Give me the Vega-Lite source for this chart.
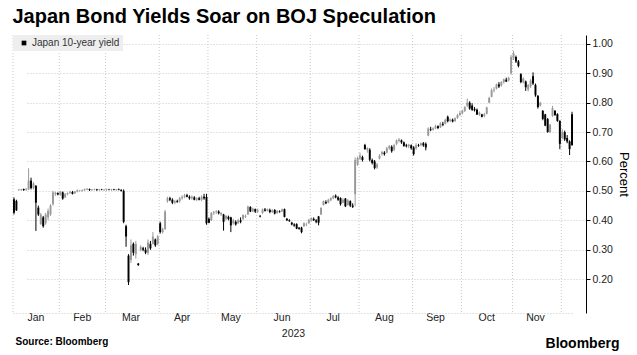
{
"$schema":"https://vega.github.io/schema/vega-lite/v6.json",
"padding":{"left":12,"top":6,"right":4,"bottom":3},
"background":"#ffffff",
"config":{"view":{"stroke":null},"font":"Liberation Sans"},
"title":{"text":"Bloomberg","orient":"bottom","anchor":"end","font":"Liberation Sans","fontSize":14,"fontWeight":"bold","color":"#000000","offset":-10,"dx":-10},
"vconcat":[{
"title":{"text":"Source: Bloomberg","orient":"bottom","anchor":"start","font":"Liberation Sans","fontSize":10,"fontWeight":"bold","color":"#000000","offset":-2,"dx":3},
"vconcat":[{
"title":{"text":"Japan Bond Yields Soar on BOJ Speculation","anchor":"start","font":"Liberation Sans","fontSize":20,"fontWeight":"bold","color":"#000000","offset":8},
"width":573,"height":278,
"data":{"values":[
{"d":"2023-01-04","o":0.472,"h":0.478,"l":0.42,"c":0.426},
{"d":"2023-01-05","o":0.466,"h":0.47,"l":0.432,"c":0.434},
{"d":"2023-01-06","o":0.503,"h":0.507,"l":0.5,"c":0.505},
{"d":"2023-01-10","o":0.504,"h":0.507,"l":0.5,"c":0.506},
{"d":"2023-01-11","o":0.506,"h":0.508,"l":0.5,"c":0.503},
{"d":"2023-01-12","o":0.503,"h":0.51,"l":0.5,"c":0.505},
{"d":"2023-01-13","o":0.505,"h":0.577,"l":0.503,"c":0.535},
{"d":"2023-01-16","o":0.535,"h":0.545,"l":0.505,"c":0.51},
{"d":"2023-01-17","o":0.51,"h":0.53,"l":0.505,"c":0.525},
{"d":"2023-01-18","o":0.517,"h":0.52,"l":0.364,"c":0.46},
{"d":"2023-01-19","o":0.443,"h":0.45,"l":0.415,"c":0.42},
{"d":"2023-01-20","o":0.387,"h":0.425,"l":0.385,"c":0.42},
{"d":"2023-01-23","o":0.41,"h":0.415,"l":0.375,"c":0.38},
{"d":"2023-01-24","o":0.39,"h":0.425,"l":0.385,"c":0.42},
{"d":"2023-01-25","o":0.41,"h":0.44,"l":0.4,"c":0.432},
{"d":"2023-01-26","o":0.42,"h":0.455,"l":0.415,"c":0.45},
{"d":"2023-01-27","o":0.455,"h":0.5,"l":0.45,"c":0.495},
{"d":"2023-01-30","o":0.49,"h":0.497,"l":0.483,"c":0.494},
{"d":"2023-01-31","o":0.493,"h":0.495,"l":0.485,"c":0.488},
{"d":"2023-02-01","o":0.488,"h":0.5,"l":0.483,"c":0.497},
{"d":"2023-02-02","o":0.495,"h":0.498,"l":0.47,"c":0.474},
{"d":"2023-02-03","o":0.478,"h":0.492,"l":0.476,"c":0.49},
{"d":"2023-02-06","o":0.49,"h":0.495,"l":0.485,"c":0.493},
{"d":"2023-02-07","o":0.494,"h":0.5,"l":0.49,"c":0.497},
{"d":"2023-02-08","o":0.496,"h":0.5,"l":0.488,"c":0.49},
{"d":"2023-02-09","o":0.492,"h":0.5,"l":0.49,"c":0.498},
{"d":"2023-02-10","o":0.498,"h":0.505,"l":0.495,"c":0.502},
{"d":"2023-02-13","o":0.5,"h":0.504,"l":0.497,"c":0.5},
{"d":"2023-02-14","o":0.5,"h":0.505,"l":0.498,"c":0.503},
{"d":"2023-02-15","o":0.503,"h":0.508,"l":0.5,"c":0.506},
{"d":"2023-02-16","o":0.505,"h":0.51,"l":0.502,"c":0.507},
{"d":"2023-02-17","o":0.506,"h":0.508,"l":0.5,"c":0.503},
{"d":"2023-02-20","o":0.503,"h":0.506,"l":0.5,"c":0.505},
{"d":"2023-02-21","o":0.505,"h":0.508,"l":0.502,"c":0.506},
{"d":"2023-02-22","o":0.505,"h":0.507,"l":0.5,"c":0.503},
{"d":"2023-02-24","o":0.503,"h":0.507,"l":0.5,"c":0.505},
{"d":"2023-02-27","o":0.505,"h":0.507,"l":0.502,"c":0.504},
{"d":"2023-02-28","o":0.503,"h":0.506,"l":0.5,"c":0.505},
{"d":"2023-03-01","o":0.505,"h":0.508,"l":0.5,"c":0.506},
{"d":"2023-03-02","o":0.505,"h":0.507,"l":0.502,"c":0.504},
{"d":"2023-03-03","o":0.504,"h":0.507,"l":0.5,"c":0.505},
{"d":"2023-03-06","o":0.505,"h":0.507,"l":0.502,"c":0.503},
{"d":"2023-03-07","o":0.503,"h":0.506,"l":0.5,"c":0.505},
{"d":"2023-03-08","o":0.505,"h":0.508,"l":0.502,"c":0.503},
{"d":"2023-03-09","o":0.503,"h":0.506,"l":0.498,"c":0.5},
{"d":"2023-03-10","o":0.5,"h":0.505,"l":0.39,"c":0.395},
{"d":"2023-03-13","o":0.38,"h":0.385,"l":0.31,"c":0.345},
{"d":"2023-03-14","o":0.28,"h":0.285,"l":0.18,"c":0.19},
{"d":"2023-03-15","o":0.265,"h":0.335,"l":0.255,"c":0.315},
{"d":"2023-03-16","o":0.32,"h":0.325,"l":0.28,"c":0.29},
{"d":"2023-03-17","o":0.285,"h":0.33,"l":0.27,"c":0.32},
{"d":"2023-03-20","o":0.253,"h":0.255,"l":0.245,"c":0.248},
{"d":"2023-03-22","o":0.3,"h":0.315,"l":0.295,"c":0.31},
{"d":"2023-03-23","o":0.305,"h":0.31,"l":0.295,"c":0.3},
{"d":"2023-03-24","o":0.3,"h":0.308,"l":0.285,"c":0.29},
{"d":"2023-03-27","o":0.29,"h":0.335,"l":0.282,"c":0.325},
{"d":"2023-03-28","o":0.32,"h":0.33,"l":0.3,"c":0.305},
{"d":"2023-03-29","o":0.32,"h":0.36,"l":0.318,"c":0.345},
{"d":"2023-03-30","o":0.335,"h":0.338,"l":0.31,"c":0.315},
{"d":"2023-03-31","o":0.32,"h":0.35,"l":0.315,"c":0.345},
{"d":"2023-04-03","o":0.39,"h":0.395,"l":0.355,"c":0.36},
{"d":"2023-04-04","o":0.36,"h":0.375,"l":0.355,"c":0.37},
{"d":"2023-04-05","o":0.37,"h":0.435,"l":0.368,"c":0.43},
{"d":"2023-04-06","o":0.465,"h":0.48,"l":0.46,"c":0.475},
{"d":"2023-04-07","o":0.475,"h":0.48,"l":0.465,"c":0.47},
{"d":"2023-04-10","o":0.47,"h":0.475,"l":0.455,"c":0.46},
{"d":"2023-04-11","o":0.46,"h":0.47,"l":0.455,"c":0.465},
{"d":"2023-04-12","o":0.465,"h":0.47,"l":0.46,"c":0.462},
{"d":"2023-04-13","o":0.465,"h":0.48,"l":0.46,"c":0.475},
{"d":"2023-04-14","o":0.475,"h":0.485,"l":0.47,"c":0.48},
{"d":"2023-04-17","o":0.48,"h":0.49,"l":0.475,"c":0.485},
{"d":"2023-04-18","o":0.485,"h":0.49,"l":0.478,"c":0.48},
{"d":"2023-04-19","o":0.48,"h":0.485,"l":0.47,"c":0.475},
{"d":"2023-04-20","o":0.475,"h":0.485,"l":0.47,"c":0.48},
{"d":"2023-04-21","o":0.478,"h":0.482,"l":0.468,"c":0.47},
{"d":"2023-04-24","o":0.47,"h":0.478,"l":0.465,"c":0.475},
{"d":"2023-04-25","o":0.475,"h":0.48,"l":0.468,"c":0.47},
{"d":"2023-04-26","o":0.47,"h":0.485,"l":0.465,"c":0.48},
{"d":"2023-04-27","o":0.48,"h":0.49,"l":0.47,"c":0.475},
{"d":"2023-04-28","o":0.48,"h":0.49,"l":0.385,"c":0.39},
{"d":"2023-05-01","o":0.405,"h":0.41,"l":0.39,"c":0.392},
{"d":"2023-05-02","o":0.4,"h":0.428,"l":0.398,"c":0.425},
{"d":"2023-05-08","o":0.425,"h":0.432,"l":0.418,"c":0.428},
{"d":"2023-05-09","o":0.428,"h":0.435,"l":0.422,"c":0.43},
{"d":"2023-05-10","o":0.43,"h":0.434,"l":0.42,"c":0.424},
{"d":"2023-05-11","o":0.42,"h":0.428,"l":0.415,"c":0.425},
{"d":"2023-05-12","o":0.42,"h":0.422,"l":0.365,"c":0.395},
{"d":"2023-05-15","o":0.405,"h":0.418,"l":0.4,"c":0.415},
{"d":"2023-05-16","o":0.412,"h":0.416,"l":0.4,"c":0.405},
{"d":"2023-05-17","o":0.41,"h":0.412,"l":0.36,"c":0.383},
{"d":"2023-05-18","o":0.39,"h":0.405,"l":0.385,"c":0.4},
{"d":"2023-05-19","o":0.395,"h":0.4,"l":0.382,"c":0.386},
{"d":"2023-05-22","o":0.39,"h":0.405,"l":0.388,"c":0.4},
{"d":"2023-05-23","o":0.4,"h":0.41,"l":0.39,"c":0.395},
{"d":"2023-05-24","o":0.405,"h":0.42,"l":0.4,"c":0.418},
{"d":"2023-05-25","o":0.412,"h":0.42,"l":0.408,"c":0.415},
{"d":"2023-05-26","o":0.42,"h":0.45,"l":0.418,"c":0.447},
{"d":"2023-05-29","o":0.445,"h":0.448,"l":0.428,"c":0.43},
{"d":"2023-05-30","o":0.43,"h":0.443,"l":0.428,"c":0.44},
{"d":"2023-05-31","o":0.438,"h":0.44,"l":0.425,"c":0.43},
{"d":"2023-06-01","o":0.43,"h":0.44,"l":0.425,"c":0.435},
{"d":"2023-06-02","o":0.415,"h":0.418,"l":0.41,"c":0.413},
{"d":"2023-06-05","o":0.425,"h":0.44,"l":0.422,"c":0.437},
{"d":"2023-06-06","o":0.437,"h":0.442,"l":0.43,"c":0.433},
{"d":"2023-06-07","o":0.433,"h":0.44,"l":0.43,"c":0.438},
{"d":"2023-06-08","o":0.435,"h":0.44,"l":0.424,"c":0.428},
{"d":"2023-06-09","o":0.428,"h":0.438,"l":0.425,"c":0.434},
{"d":"2023-06-12","o":0.435,"h":0.438,"l":0.42,"c":0.423},
{"d":"2023-06-13","o":0.425,"h":0.435,"l":0.422,"c":0.432},
{"d":"2023-06-14","o":0.43,"h":0.434,"l":0.426,"c":0.428},
{"d":"2023-06-15","o":0.43,"h":0.44,"l":0.428,"c":0.437},
{"d":"2023-06-16","o":0.438,"h":0.44,"l":0.41,"c":0.412},
{"d":"2023-06-19","o":0.405,"h":0.408,"l":0.398,"c":0.4},
{"d":"2023-06-20","o":0.4,"h":0.404,"l":0.395,"c":0.397},
{"d":"2023-06-21","o":0.392,"h":0.395,"l":0.383,"c":0.386},
{"d":"2023-06-22","o":0.386,"h":0.39,"l":0.378,"c":0.382},
{"d":"2023-06-23","o":0.387,"h":0.39,"l":0.37,"c":0.372},
{"d":"2023-06-26","o":0.375,"h":0.377,"l":0.368,"c":0.371},
{"d":"2023-06-27","o":0.375,"h":0.378,"l":0.356,"c":0.36},
{"d":"2023-06-28","o":0.38,"h":0.393,"l":0.378,"c":0.39},
{"d":"2023-06-29","o":0.385,"h":0.392,"l":0.38,"c":0.386},
{"d":"2023-06-30","o":0.39,"h":0.405,"l":0.388,"c":0.402},
{"d":"2023-07-03","o":0.4,"h":0.41,"l":0.396,"c":0.408},
{"d":"2023-07-04","o":0.405,"h":0.41,"l":0.398,"c":0.4},
{"d":"2023-07-05","o":0.4,"h":0.404,"l":0.39,"c":0.395},
{"d":"2023-07-06","o":0.413,"h":0.415,"l":0.383,"c":0.392},
{"d":"2023-07-07","o":0.42,"h":0.445,"l":0.418,"c":0.442},
{"d":"2023-07-10","o":0.452,"h":0.467,"l":0.45,"c":0.465},
{"d":"2023-07-11","o":0.462,"h":0.468,"l":0.455,"c":0.458},
{"d":"2023-07-12","o":0.46,"h":0.473,"l":0.458,"c":0.47},
{"d":"2023-07-13","o":0.468,"h":0.478,"l":0.465,"c":0.476},
{"d":"2023-07-14","o":0.475,"h":0.486,"l":0.472,"c":0.482},
{"d":"2023-07-18","o":0.484,"h":0.488,"l":0.475,"c":0.478},
{"d":"2023-07-19","o":0.478,"h":0.482,"l":0.466,"c":0.47},
{"d":"2023-07-20","o":0.476,"h":0.478,"l":0.45,"c":0.455},
{"d":"2023-07-21","o":0.46,"h":0.475,"l":0.458,"c":0.47},
{"d":"2023-07-24","o":0.474,"h":0.476,"l":0.445,"c":0.448},
{"d":"2023-07-25","o":0.452,"h":0.472,"l":0.45,"c":0.468},
{"d":"2023-07-26","o":0.465,"h":0.468,"l":0.445,"c":0.45},
{"d":"2023-07-27","o":0.45,"h":0.458,"l":0.442,"c":0.446},
{"d":"2023-07-28","o":0.489,"h":0.614,"l":0.448,"c":0.605},
{"d":"2023-07-31","o":0.59,"h":0.617,"l":0.585,"c":0.612},
{"d":"2023-08-01","o":0.61,"h":0.63,"l":0.605,"c":0.62},
{"d":"2023-08-02","o":0.615,"h":0.62,"l":0.6,"c":0.605},
{"d":"2023-08-03","o":0.656,"h":0.66,"l":0.64,"c":0.642},
{"d":"2023-08-04","o":0.64,"h":0.648,"l":0.63,"c":0.645},
{"d":"2023-08-07","o":0.64,"h":0.645,"l":0.6,"c":0.606},
{"d":"2023-08-08","o":0.605,"h":0.61,"l":0.59,"c":0.595},
{"d":"2023-08-09","o":0.6,"h":0.605,"l":0.573,"c":0.578},
{"d":"2023-08-10","o":0.58,"h":0.595,"l":0.575,"c":0.59},
{"d":"2023-08-14","o":0.61,"h":0.625,"l":0.607,"c":0.62},
{"d":"2023-08-15","o":0.625,"h":0.636,"l":0.62,"c":0.632},
{"d":"2023-08-16","o":0.63,"h":0.635,"l":0.62,"c":0.625},
{"d":"2023-08-17","o":0.63,"h":0.65,"l":0.628,"c":0.645},
{"d":"2023-08-18","o":0.645,"h":0.656,"l":0.64,"c":0.652},
{"d":"2023-08-21","o":0.65,"h":0.655,"l":0.63,"c":0.635},
{"d":"2023-08-22","o":0.64,"h":0.66,"l":0.635,"c":0.655},
{"d":"2023-08-23","o":0.66,"h":0.675,"l":0.655,"c":0.672},
{"d":"2023-08-24","o":0.67,"h":0.68,"l":0.665,"c":0.675},
{"d":"2023-08-25","o":0.672,"h":0.675,"l":0.66,"c":0.665},
{"d":"2023-08-28","o":0.665,"h":0.668,"l":0.65,"c":0.653},
{"d":"2023-08-29","o":0.655,"h":0.66,"l":0.648,"c":0.652},
{"d":"2023-08-30","o":0.652,"h":0.66,"l":0.645,"c":0.657},
{"d":"2023-08-31","o":0.655,"h":0.658,"l":0.64,"c":0.645},
{"d":"2023-09-01","o":0.648,"h":0.652,"l":0.62,"c":0.625},
{"d":"2023-09-04","o":0.645,"h":0.662,"l":0.64,"c":0.655},
{"d":"2023-09-05","o":0.655,"h":0.66,"l":0.65,"c":0.653},
{"d":"2023-09-06","o":0.655,"h":0.665,"l":0.652,"c":0.662},
{"d":"2023-09-07","o":0.662,"h":0.666,"l":0.65,"c":0.655},
{"d":"2023-09-08","o":0.66,"h":0.665,"l":0.638,"c":0.648},
{"d":"2023-09-11","o":0.688,"h":0.716,"l":0.686,"c":0.712},
{"d":"2023-09-12","o":0.71,"h":0.718,"l":0.703,"c":0.708},
{"d":"2023-09-13","o":0.708,"h":0.716,"l":0.705,"c":0.713},
{"d":"2023-09-14","o":0.713,"h":0.725,"l":0.71,"c":0.72},
{"d":"2023-09-15","o":0.72,"h":0.723,"l":0.71,"c":0.714},
{"d":"2023-09-19","o":0.716,"h":0.733,"l":0.714,"c":0.73},
{"d":"2023-09-20","o":0.728,"h":0.735,"l":0.72,"c":0.725},
{"d":"2023-09-21","o":0.728,"h":0.745,"l":0.726,"c":0.742},
{"d":"2023-09-22","o":0.752,"h":0.756,"l":0.733,"c":0.737},
{"d":"2023-09-25","o":0.738,"h":0.746,"l":0.734,"c":0.743},
{"d":"2023-09-26","o":0.742,"h":0.746,"l":0.733,"c":0.736},
{"d":"2023-09-27","o":0.737,"h":0.75,"l":0.735,"c":0.747},
{"d":"2023-09-28","o":0.748,"h":0.762,"l":0.745,"c":0.758},
{"d":"2023-09-29","o":0.758,"h":0.772,"l":0.755,"c":0.765},
{"d":"2023-10-02","o":0.765,"h":0.776,"l":0.76,"c":0.772},
{"d":"2023-10-03","o":0.772,"h":0.788,"l":0.768,"c":0.785},
{"d":"2023-10-04","o":0.79,"h":0.814,"l":0.785,"c":0.8},
{"d":"2023-10-05","o":0.8,"h":0.805,"l":0.776,"c":0.78},
{"d":"2023-10-06","o":0.79,"h":0.798,"l":0.772,"c":0.776},
{"d":"2023-10-10","o":0.778,"h":0.785,"l":0.77,"c":0.774},
{"d":"2023-10-11","o":0.776,"h":0.78,"l":0.758,"c":0.76},
{"d":"2023-10-12","o":0.76,"h":0.77,"l":0.755,"c":0.766},
{"d":"2023-10-13","o":0.76,"h":0.762,"l":0.75,"c":0.752},
{"d":"2023-10-16","o":0.755,"h":0.765,"l":0.75,"c":0.76},
{"d":"2023-10-17","o":0.762,"h":0.786,"l":0.76,"c":0.784},
{"d":"2023-10-18","o":0.8,"h":0.82,"l":0.798,"c":0.816},
{"d":"2023-10-19","o":0.82,"h":0.848,"l":0.818,"c":0.842},
{"d":"2023-10-20","o":0.842,"h":0.853,"l":0.835,"c":0.845},
{"d":"2023-10-23","o":0.848,"h":0.865,"l":0.845,"c":0.862},
{"d":"2023-10-24","o":0.862,"h":0.87,"l":0.85,"c":0.855},
{"d":"2023-10-25","o":0.858,"h":0.873,"l":0.855,"c":0.87},
{"d":"2023-10-26","o":0.87,"h":0.882,"l":0.865,"c":0.879},
{"d":"2023-10-27","o":0.878,"h":0.885,"l":0.87,"c":0.872},
{"d":"2023-10-30","o":0.876,"h":0.888,"l":0.872,"c":0.884},
{"d":"2023-10-31","o":0.9,"h":0.962,"l":0.895,"c":0.955},
{"d":"2023-11-01","o":0.95,"h":0.976,"l":0.945,"c":0.968},
{"d":"2023-11-02","o":0.955,"h":0.96,"l":0.935,"c":0.94},
{"d":"2023-11-06","o":0.94,"h":0.945,"l":0.92,"c":0.925},
{"d":"2023-11-07","o":0.897,"h":0.9,"l":0.866,"c":0.87},
{"d":"2023-11-08","o":0.87,"h":0.886,"l":0.865,"c":0.882},
{"d":"2023-11-09","o":0.872,"h":0.875,"l":0.84,"c":0.852},
{"d":"2023-11-10","o":0.845,"h":0.863,"l":0.838,"c":0.86},
{"d":"2023-11-13","o":0.855,"h":0.88,"l":0.85,"c":0.875},
{"d":"2023-11-14","o":0.89,"h":0.903,"l":0.86,"c":0.865},
{"d":"2023-11-15","o":0.86,"h":0.865,"l":0.82,"c":0.825},
{"d":"2023-11-16","o":0.823,"h":0.826,"l":0.78,"c":0.785},
{"d":"2023-11-17","o":0.79,"h":0.803,"l":0.787,"c":0.8},
{"d":"2023-11-20","o":0.772,"h":0.775,"l":0.74,"c":0.745},
{"d":"2023-11-21","o":0.76,"h":0.762,"l":0.72,"c":0.722},
{"d":"2023-11-22","o":0.744,"h":0.748,"l":0.698,"c":0.7},
{"d":"2023-11-24","o":0.7,"h":0.728,"l":0.697,"c":0.725},
{"d":"2023-11-27","o":0.755,"h":0.789,"l":0.752,"c":0.782},
{"d":"2023-11-28","o":0.772,"h":0.775,"l":0.755,"c":0.758},
{"d":"2023-11-29","o":0.761,"h":0.764,"l":0.735,"c":0.738},
{"d":"2023-11-30","o":0.738,"h":0.74,"l":0.642,"c":0.66},
{"d":"2023-12-01","o":0.68,"h":0.71,"l":0.675,"c":0.7},
{"d":"2023-12-04","o":0.7,"h":0.705,"l":0.67,"c":0.675},
{"d":"2023-12-05","o":0.68,"h":0.69,"l":0.662,"c":0.668},
{"d":"2023-12-06","o":0.668,"h":0.672,"l":0.622,"c":0.642},
{"d":"2023-12-07","o":0.761,"h":0.769,"l":0.653,"c":0.656}
]},
"layer":[
{"data":{"values":[{"d":"2023-01-04"},{"d":"2023-02-01"},{"d":"2023-03-01"},{"d":"2023-04-03"},{"d":"2023-05-01"},{"d":"2023-06-01"},{"d":"2023-07-03"},{"d":"2023-08-01"},{"d":"2023-09-01"},{"d":"2023-10-02"},{"d":"2023-11-01"},{"d":"2023-12-01"}]},
 "mark":{"type":"rule","color":"#c8c8c8","strokeDash":[1,2],"strokeWidth":1},
 "encoding":{"x":{"field":"d","type":"ordinal","bandPosition":0,"title":"2023"}}},
{"mark":{"type":"rule","strokeWidth":1},
 "encoding":{
  "x":{"field":"d","type":"ordinal","title":"2023"},
  "y":{"field":"l","type":"quantitative","title":"Percent",
   "scale":{"domain":[0.085,1.03],"nice":false,"zero":false},
   "axis":{"orient":"right","values":[0.2,0.3,0.4,0.5,0.6,0.7,0.8,0.9,1.0],"format":".2f","grid":true,"gridColor":"#c8c8c8","gridDash":[1,2],"labelOverlap":false,"tickCount":10,
    "domainColor":"#000000","tickColor":"#000000","tickSize":4,"labelFont":"Liberation Sans","labelFontSize":10.5,"labelColor":"#222222","labelPadding":2,
    "titleFont":"Liberation Sans","titleFontSize":13,"titleFontWeight":"normal","titleColor":"#000000","titlePadding":4}},
  "y2":{"field":"h"},
  "stroke":{"condition":{"test":"datum.c < datum.o","value":"#000000"},"value":"#9a9a9a"}}},
{"mark":{"type":"bar"},
 "encoding":{
  "x":{"field":"d","type":"ordinal","title":"2023",
   "scale":{"type":"band","paddingInner":0.2,"paddingOuter":0,"align":0,"range":[0,560]},
   "axis":{"orient":"bottom","values":["2023-01-18","2023-02-14","2023-03-15","2023-04-14","2023-05-17","2023-06-15","2023-07-14","2023-08-16","2023-09-14","2023-10-17","2023-11-15"],
    "labelExpr":"utcFormat(toDate(datum.value), '%b')","labelAngle":0,"labelAlign":"center","bandPosition":0.5,"ticks":false,"grid":false,
    "domainColor":"#c8c8c8","domainDash":[1,2],"labelFont":"Liberation Sans","labelFontSize":10.5,"labelColor":"#222222","labelPadding":4,
    "titleFont":"Liberation Sans","titleFontSize":10.5,"titleFontWeight":"normal","titleColor":"#222222","titlePadding":6}},
  "y":{"field":"o","type":"quantitative","title":"Percent",
   "axis":{"orient":"right","values":[0.2,0.3,0.4,0.5,0.6,0.7,0.8,0.9,1.0],"format":".2f","grid":true,"gridColor":"#c8c8c8","gridDash":[1,2],"labelOverlap":false,"tickCount":10,
    "domainColor":"#000000","tickColor":"#000000","tickSize":4,"labelFont":"Liberation Sans","labelFontSize":10.5,"labelColor":"#222222","labelPadding":2,
    "titleFont":"Liberation Sans","titleFontSize":13,"titleFontWeight":"normal","titleColor":"#000000","titlePadding":4}},
  "y2":{"field":"c"},
  "color":{"condition":{"test":"datum.c >= datum.o","value":"#9a9a9a"},"datum":"Japan 10-year yield","scale":{"range":["#000000"]},
   "legend":{"orient":"top-left","offset":0,"padding":3,"fillColor":"#eeeeee","symbolType":"square","symbolSize":22,"symbolOffset":3,"symbolStrokeWidth":0,
    "labelFont":"Liberation Sans","labelFontSize":10,"labelColor":"#333333","labelOffset":3,"title":null}}}}
]
}]
}]
}
